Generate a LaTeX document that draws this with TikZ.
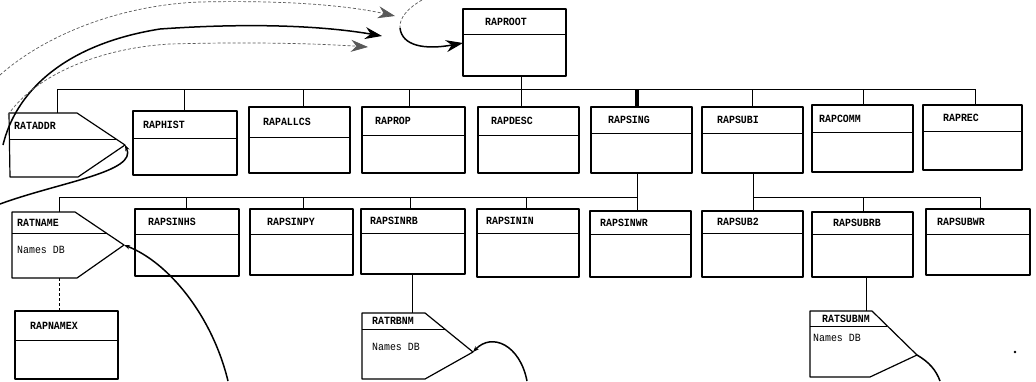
\documentclass[tikz,border=0pt]{standalone}
\usepackage{fontspec}
\newfontfamily\lbfont[FakeStretch=0.9]{Liberation Mono}
\usetikzlibrary{arrows.meta}
\tikzset{
  outl/.style={draw, line width=1.2pt, line join=round},
  boxst/.style={outl, rectangle, inner sep=0pt, outer sep=0pt},
  divl/.style={line width=0.9pt},
  link/.style={line width=0.9pt},
  lbl/.style={font=\lbfont\bfseries\fontsize{11}{11}\selectfont, inner sep=0pt, anchor=west},
  nlbl/.style={font=\lbfont\fontsize{11}{11}\selectfont, inner sep=0pt, anchor=west},
  curv/.style={line width=1.5pt},
  faint/.style={line width=0.7pt, densely dashed, black!65},
  bigtip/.style={-{Stealth[length=17pt,width=12pt]}},
  smalltip/.style={-{Stealth[length=6pt,width=4.5pt]}}
}
\newcommand\rbox[8]{%
  \node[boxst, minimum width={(#4-#2)*1pt}, minimum height={(#5-#3)*1pt}, anchor=north west] (#1) at (#2,#3) {};
  \draw[divl] (#2,#6) -- (#4,#6);
  \node[lbl] (#1-t) at (#7,{(#3+#6)/2}) {#8};}
\begin{document}
\begin{tikzpicture}[x=1pt,y=-1pt]
\useasboundingbox[fill=white] (0,0) rectangle (1036,381);

% ---------- root ----------
\rbox{raproot}{463}{9}{566}{76}{34}{485}{RAPROOT}

% ---------- row 1 ----------
\draw[outl] (9,113) coordinate (ratadr-nw) -- (77,113) -- (125,145) coordinate (ratadr-tip) -- (78,177) -- (10,177) -- cycle;
\draw[divl] (9,139) -- (116,139);
\node[lbl] (ratadr-t) at (14,126) {RATADDR};
\rbox{raphist}{133}{111}{237}{175}{138}{143}{RAPHIST}
\rbox{rapallcs}{249}{107}{350}{173}{137}{263}{RAPALLCS}
\rbox{raprop}{362}{107}{465}{173}{135}{375}{RAPROP}
\rbox{rapdesc}{478}{107}{579}{173}{135}{491}{RAPDESC}
\rbox{rapsing}{591}{107}{692}{173}{133}{608}{RAPSING}
\rbox{rapsubi}{702}{107}{803}{173}{133}{717}{RAPSUBI}
\rbox{rapcomm}{812}{105}{913}{172}{132}{819}{RAPCOMM}
\rbox{raprec}{923}{105}{1022}{170}{131}{943}{RAPREC}

% ---------- row 2 ----------
\draw[outl] (12,212) coordinate (ratname-nw) -- (75,212) -- (124,245) coordinate (ratname-tip) -- (77,278) -- (12,278) -- cycle;
\draw[divl] (12,233) -- (106,233);
\node[lbl] (ratname-t) at (17,223) {RATNAME};
\node[nlbl] (ratname-d) at (17,250) {Names DB};
\rbox{rapsinhs}{135}{209}{239}{276}{234}{148}{RAPSINHS}
\rbox{rapsinpy}{250}{209}{353}{275}{234}{267}{RAPSINPY}
\rbox{rapsinrb}{361}{209}{465}{274}{233}{370}{RAPSINRB}
\rbox{rapsinin}{477}{209}{579}{277}{233}{486}{RAPSININ}
\rbox{rapsinwr}{590}{211}{691}{277}{234}{600}{RAPSINWR}
\rbox{rapsub2}{702}{211}{803}{277}{233}{717}{RAPSUB2}
\rbox{rapsubrb}{812}{212}{913}{277}{234}{833}{RAPSUBRB}
\rbox{rapsubwr}{926}{209}{1030}{275}{234}{937}{RAPSUBWR}

% ---------- row 3 ----------
\rbox{rapnamex}{15}{311}{118}{379}{340}{30}{RAPNAMEX}
\draw[outl] (362,313) coordinate (ratrbnm-nw) -- (425,313) -- (473,352) coordinate (ratrbnm-tip) -- (425,379) -- (362,379) -- cycle;
\draw[divl] (362,329) -- (445,329);
\node[lbl] (ratrbnm-t) at (372,321) {RATRBNM};
\node[nlbl] (ratrbnm-d) at (372,347) {Names DB};
\draw[outl] (810,311) coordinate (ratsubnm-nw) -- (872,311) -- (917,355) coordinate (ratsubnm-tip) -- (870,377) -- (810,377) -- cycle;
\draw[divl] (810,326) -- (887,326);
\node[lbl] (ratsubnm-t) at (822,318.5) {RATSUBNM};
\node[nlbl] (ratsubnm-d) at (813,338) {Names DB};

% ---------- connectors level 1 ----------
\coordinate (b1l) at (57,89);
\coordinate (b1r) at (975,89);
\coordinate (rs) at (521,89);
\draw[link] (raproot.south -| rs) -- (rs);
\draw[link] (b1l) -- (b1r);
\draw[link] (b1l) -- (b1l |- ratadr-nw);
\foreach \n/\x in {raphist/184, rapallcs/303, raprop/409, rapdesc/521, rapsubi/752, rapcomm/863, raprec/975}{
  \coordinate (s-\n) at (\x,89);
  \draw[link] (s-\n) -- (s-\n |- \n.north);}
\coordinate (s-rapsing) at (637,89);
\draw[line width=3.5pt] (s-rapsing) -- (s-rapsing |- rapsing.north);

% ---------- connectors level 2 ----------
\coordinate (b2l) at (59,197);
\coordinate (b2r) at (637,197);
\draw[link] (b2r |- rapsing.south) -- (b2r);
\draw[link] (b2l) -- (b2r);
\draw[link] (b2l) -- (b2l |- ratname-nw);
\draw[link] (b2r) -- (b2r |- rapsinwr.north);
\foreach \n/\x in {rapsinhs/186, rapsinpy/303, rapsinrb/410, rapsinin/526}{
  \coordinate (t-\n) at (\x,197);
  \draw[link] (t-\n) -- (t-\n |- \n.north);}
\coordinate (b3l) at (753,197);
\coordinate (b3r) at (980,197);
\draw[link] (b3l |- rapsubi.south) -- (b3l);
\draw[link] (b3l) -- (b3r);
\draw[link] (b3l) -- (b3l |- rapsub2.north);
\draw[link] (b3r) -- (b3r |- rapsubwr.north);
\coordinate (t-rapsubrb) at (863,197);
\draw[link] (t-rapsubrb) -- (t-rapsubrb |- rapsubrb.north);

% ---------- connectors level 3 ----------
\coordinate (u-ratname) at (59,278);
\draw[link, densely dashed] (u-ratname) -- (u-ratname |- rapnamex.north);
\coordinate (u-rapsinrb) at (412,274);
\draw[link] (u-rapsinrb) -- (u-rapsinrb |- ratrbnm-nw);
\coordinate (u-rapsubrb) at (866,277);
\draw[link] (u-rapsubrb) -- (u-rapsubrb |- ratsubnm-nw);

% ---------- top flow curves ----------
\coordinate (ct-s) at (0,75);
\coordinate (ct-e) at (395,16);
\draw[faint, bigtip] (ct-s) .. controls (45,35) and (120,5) .. (200,2) .. controls (290,0) and (350,6) .. (ct-e);
\coordinate (cm-s) at (3,145);
\coordinate (cm-e) at (382,36);
\draw[curv, bigtip] (cm-s) .. controls (15,95) and (60,45) .. (160,29) .. controls (260,22) and (330,27) .. (cm-e);
\coordinate (cb-s) at (8,115);
\coordinate (cb-e) at (368,47);
\draw[faint, bigtip] (cb-s) .. controls (35,75) and (100,48) .. (170,44) .. controls (240,42) and (310,43) .. (cb-e);
\coordinate (cc-s) at (422,0);
\coordinate (cc-m) at (400,28);
\draw[faint] (cc-s) .. controls (408,8) and (399,18) .. (cc-m);
\draw[curv, bigtip] (cc-m) .. controls (402,46) and (425,50) .. (raproot.west |- 0,43);

% ---------- curves to the names files ----------
\coordinate (ca-s) at (0,204);
\draw[curv, smalltip] (ca-s) .. controls (60,182) and (138,172) .. (ratadr-tip);
\coordinate (cn-s) at (228,381);
\draw[curv, smalltip] (cn-s) .. controls (212,315) and (168,262) .. (ratname-tip);
\coordinate (cr-s) at (527,381);
\draw[curv, smalltip] (cr-s) .. controls (520,345) and (492,332) .. (ratrbnm-tip);
\coordinate (cs-s) at (940,381);
\draw[curv] (cs-s) .. controls (936,370) and (929,362) .. (ratsubnm-tip);

\fill (1015,352) circle[radius=1.3pt];
\end{tikzpicture}
\end{document}
